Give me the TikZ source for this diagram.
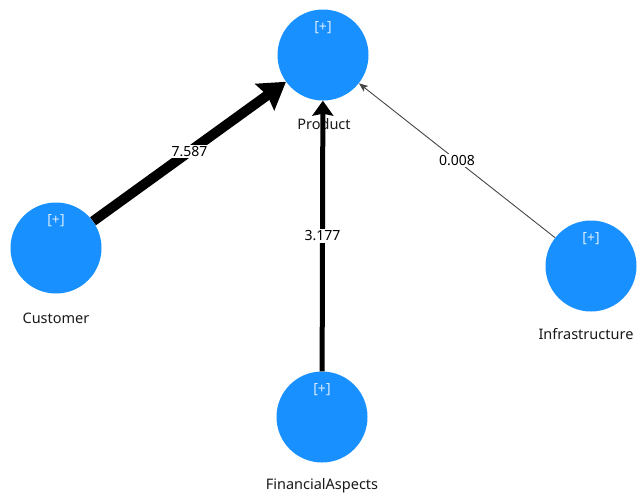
\documentclass[tikz,border=0pt]{standalone}
\usepackage{fontspec}
\setmainfont{Noto Sans}
\usepackage{tikz}
\usetikzlibrary{positioning,arrows.meta}

\definecolor{lvblue}{RGB}{24,144,255}
\definecolor{pathgray}{RGB}{70,70,70}

\begin{document}
\begin{tikzpicture}[
    x=1pt, y=-1pt,
    latent/.style={circle, fill=lvblue, minimum size=91pt, inner sep=0pt,
        label={[font=\fontsize{14}{15}\selectfont, text=white!85!lvblue, label distance=-28pt]north:{[+]}}},
    lvname/.style={font=\fontsize{14.5}{16}\selectfont, text=black!90},
    coef/.style={fill=white, inner sep=1.5pt, font=\fontsize{14}{16}\selectfont},
    strong/.style={line width=10pt, -{Stealth[length=26pt,width=32pt,inset=3pt]}},
    medium/.style={line width=5pt, -{Stealth[length=15pt,width=21pt,inset=2pt]}},
    weak/.style={line width=0.9pt, draw=pathgray, -{Stealth[length=9pt,width=7pt,inset=2pt]}}
]
\useasboundingbox (0,0) rectangle (638,493);

% Konstrukte
\node[latent] (P) at (323,55) {};
\node[latent] (C) at (56,248) {};
\node[latent] (F) at (322,417) {};
\node[latent] (I) at (591,266) {};

% Beschriftungen
\node[lvname] (Plbl) at (324,124) {Product};
\node[lvname] (Clbl) at (56,318) {Customer};
\node[lvname] (Ilbl) at (586,334) {Infrastructure};
\node[lvname] (Flbl) at (322,486) {FinancialAspects};

% Pfade
\draw[strong] (C) -- node[coef] {7.587} (P);
\draw[medium] (F) -- node[coef] {3.177} (P);
\draw[weak] (I) -- node[coef] {0.008} (P);

\end{tikzpicture}
\end{document}
